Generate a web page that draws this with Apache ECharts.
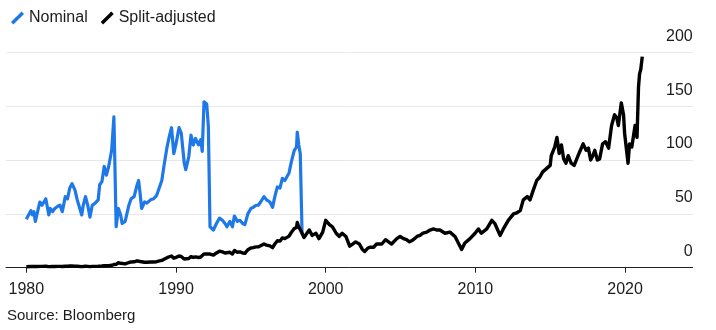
<!DOCTYPE html>
<html>
<head>
<meta charset="utf-8">
<script src="https://cdn.jsdelivr.net/npm/echarts@6/dist/echarts.min.js"></script>
<style>
  html, body { margin: 0; padding: 0; background: #fff; }
  #chart { width: 716px; height: 330px; }
</style>
</head>
<body>
<div id="chart"></div>
<script>
// Share price, decimal years
const nominalYears = [
  1980.0, 1980.3, 1980.4, 1980.5, 1980.6, 1980.75, 1980.9, 1981.05, 1981.3, 1981.5,
  1981.6, 1981.75, 1981.9, 1982.1, 1982.25, 1982.4, 1982.6, 1982.75, 1982.9, 1983.05,
  1983.25, 1983.4, 1983.5, 1983.7, 1983.8, 1983.95, 1984.1, 1984.25, 1984.4, 1984.6,
  1984.8, 1984.9, 1985.05, 1985.2, 1985.35, 1985.5, 1985.7, 1985.85, 1986.0, 1986.15,
  1986.3, 1986.4, 1986.6, 1986.85, 1987.0, 1987.2, 1987.4, 1987.5, 1987.6, 1987.7,
  1987.9, 1988.05, 1988.3, 1988.5, 1988.7, 1988.9, 1989.05, 1989.2, 1989.4, 1989.55,
  1989.7, 1989.85, 1990.0, 1990.2, 1990.35, 1990.55, 1990.65, 1990.85, 1991.0, 1991.15,
  1991.3, 1991.5, 1991.65, 1991.75, 1991.87, 1992.05, 1992.16, 1992.27, 1992.5, 1992.7,
  1992.9, 1993.1, 1993.27, 1993.4, 1993.6, 1993.77, 1993.9, 1994.1, 1994.27, 1994.45,
  1994.6, 1994.8, 1995.0, 1995.15, 1995.35, 1995.5, 1995.65, 1995.88, 1996.05, 1996.27,
  1996.45, 1996.6, 1996.77, 1996.95, 1997.1, 1997.27, 1997.4, 1997.55, 1997.7, 1997.9,
  1998.05, 1998.1, 1998.2, 1998.3, 1998.42
];
const nominalValues = [
  45, 53, 49, 52, 43, 52, 61, 58, 64, 49,
  55, 52, 55, 57, 58, 52, 66, 64, 74, 78,
  72, 63, 63, 49, 58, 66, 58, 47, 58, 60,
  63, 77, 80, 94, 86, 94, 109, 140, 38, 55,
  49, 41, 43, 58, 64, 66, 77, 81, 69, 55,
  61, 60, 63, 64, 67, 75, 81, 95, 112, 122,
  130, 106, 115, 130, 125, 97, 91, 103, 123, 114,
  120, 114, 119, 108, 154, 152, 131, 38, 35, 41,
  46, 44, 41, 38, 43, 38, 48, 43, 44, 41,
  40, 50, 55, 56, 58, 58, 61, 66, 63, 61,
  56, 66, 75, 74, 83, 81, 80, 88, 98, 109,
  112, 126, 114, 106, 32
];

const adjustedYears = [
  1980.0, 1980.3, 1980.4, 1980.5, 1980.6, 1980.75, 1980.9, 1981.05, 1981.3, 1981.5,
  1981.6, 1981.75, 1981.9, 1982.1, 1982.25, 1982.4, 1982.6, 1982.75, 1982.9, 1983.05,
  1983.25, 1983.4, 1983.5, 1983.7, 1983.8, 1983.95, 1984.1, 1984.25, 1984.4, 1984.6,
  1984.8, 1984.9, 1985.05, 1985.2, 1985.35, 1985.5, 1985.7, 1985.85, 1986.0, 1986.15,
  1986.3, 1986.4, 1986.6, 1986.85, 1987.0, 1987.2, 1987.4, 1987.5, 1987.6, 1987.7,
  1987.9, 1988.05, 1988.3, 1988.5, 1988.7, 1988.9, 1989.05, 1989.2, 1989.4, 1989.55,
  1989.7, 1989.85, 1990.0, 1990.2, 1990.35, 1990.55, 1990.65, 1990.85, 1991.0, 1991.15,
  1991.3, 1991.5, 1991.65, 1991.75, 1991.87, 1992.05, 1992.16, 1992.27, 1992.5, 1992.7,
  1992.9, 1993.1, 1993.27, 1993.4, 1993.6, 1993.77, 1993.9, 1994.1, 1994.27, 1994.45,
  1994.6, 1994.8, 1995.0, 1995.15, 1995.35, 1995.5, 1995.65, 1995.88, 1996.05, 1996.27,
  1996.45, 1996.6, 1996.77, 1996.95, 1997.1, 1997.27, 1997.4, 1997.55, 1997.7, 1997.9,
  1998.05, 1998.1, 1998.2, 1998.3, 1998.42, 1998.55, 1998.7, 1998.9, 1999.1, 1999.35,
  1999.55, 1999.8, 2000.0, 2000.25, 2000.45, 2000.7, 2000.9, 2001.1, 2001.35, 2001.6,
  2001.8, 2002.0, 2002.25, 2002.45, 2002.6, 2002.8, 2002.95, 2003.2, 2003.4, 2003.75,
  2004.0, 2004.2, 2004.4, 2004.75, 2004.97, 2005.2, 2005.4, 2005.6, 2005.85, 2006.1,
  2006.3, 2006.5, 2006.75, 2006.97, 2007.2, 2007.4, 2007.63, 2007.97, 2008.3, 2008.64,
  2008.86, 2009.08, 2009.3, 2009.64, 2009.98, 2010.2, 2010.4, 2010.76, 2011.1, 2011.3,
  2011.65, 2011.87, 2012.2, 2012.55, 2012.77, 2013.0, 2013.2, 2013.47, 2013.65, 2013.87,
  2014.1, 2014.3, 2014.5, 2014.75, 2015.0, 2015.07, 2015.3, 2015.45, 2015.6, 2015.75,
  2015.9, 2016.05, 2016.2, 2016.4, 2016.6, 2016.7, 2016.95, 2017.2, 2017.4, 2017.55,
  2017.7, 2017.85, 2017.98, 2018.15, 2018.3, 2018.5, 2018.7, 2018.9, 2019.0, 2019.1,
  2019.3, 2019.45, 2019.55, 2019.75, 2019.9, 2019.97, 2020.2, 2020.3, 2020.45, 2020.55,
  2020.67, 2020.8, 2020.9, 2020.97, 2021.05, 2021.15
];
const adjustedValues = [
  0.94, 1.10, 1.02, 1.08, 0.90, 1.08, 1.27, 1.21, 1.33, 1.02,
  1.15, 1.08, 1.15, 1.19, 1.21, 1.08, 1.38, 1.33, 1.54, 1.63,
  1.50, 1.31, 1.31, 1.02, 1.21, 1.38, 1.21, 0.98, 1.21, 1.25,
  1.31, 1.60, 1.67, 1.96, 1.79, 1.96, 2.27, 2.92, 3.17, 4.58,
  4.08, 3.42, 3.58, 4.83, 5.33, 5.50, 6.42, 6.75, 5.75, 4.58,
  5.08, 5.00, 5.25, 5.33, 5.58, 6.25, 6.75, 7.92, 9.33, 10.17,
  10.83, 8.83, 9.58, 10.83, 10.42, 8.08, 7.58, 8.58, 10.25, 9.50,
  10.0, 9.50, 9.92, 9.00, 12.83, 12.67, 10.92, 12.67, 11.67, 13.67,
  15.33, 14.67, 13.67, 12.67, 14.33, 12.67, 16.0, 14.33, 14.67, 13.67,
  13.33, 16.67, 18.33, 18.67, 19.33, 19.33, 20.33, 22.0, 21.0, 20.33,
  18.67, 22.0, 25.0, 24.67, 27.67, 27.0, 26.67, 29.33, 32.67, 36.33,
  37.33, 42.0, 38.0, 35.33, 32, 28, 31, 35, 30, 32,
  27, 33, 44, 40, 38, 32, 29, 32, 29, 20,
  22, 24, 22, 17, 15, 18, 19, 19, 22, 22,
  26, 24, 22, 27, 29, 27, 26, 24, 26, 29,
  30, 32, 33, 35, 36, 35, 35, 32, 33, 29,
  23, 17, 23, 27, 32, 36, 32, 36, 44, 41,
  30, 36, 44, 50, 51, 53, 63, 66, 63, 72,
  81, 84, 89, 92, 95, 104, 112, 121, 106, 114,
  101, 97, 104, 97, 95, 94, 107, 115, 109, 111,
  100, 104, 109, 100, 101, 115, 117, 111, 112, 132,
  142, 139, 132, 153, 142, 125, 97, 115, 112, 121,
  132, 121, 168, 180, 184, 196
];

const xTickYears = [1980, 1990, 2000, 2010, 2020];
const seriesNames = ['Nominal', 'Split-adjusted'];
const sourceNote = 'Source: Bloomberg';

const pairs = (xs, ys) => xs.map((x, i) => [x, ys[i]]);

const FONT = '"Liberation Sans", Arial, sans-serif';
const TEXT = '#1c1c1c';
const BLUE = '#1f78e8';
// thin diagonal bar used as the legend key
const slash = 'path://M0,10.6 L10.6,0 L13,2.4 L2.4,13 Z';

const chart = echarts.init(document.getElementById('chart'), null, { renderer: 'canvas' });
chart.setOption({
  animation: false,
  backgroundColor: '#fff',
  textStyle: { fontFamily: FONT },
  grid: { left: 6, right: 23.3, top: 52.3, bottom: 62.3, containLabel: false },
  legend: {
    left: 6, top: 5,
    icon: slash,
    itemWidth: 13, itemHeight: 13, itemGap: 13,
    itemStyle: { borderWidth: 0 },
    textStyle: { fontSize: 16, color: TEXT, fontFamily: FONT },
    data: seriesNames
  },
  xAxis: {
    type: 'value',
    min: 1978.64, max: 2024.52,
    splitLine: { show: false },
    axisLine: { show: true, lineStyle: { color: '#222', width: 1 } },
    axisTick: { show: true, customValues: xTickYears, length: 5, lineStyle: { color: '#222', width: 1 } },
    axisLabel: {
      customValues: xTickYears,
      fontSize: 16, color: TEXT, fontFamily: FONT, margin: 14,
      formatter: v => String(Math.round(v))
    }
  },
  yAxis: {
    type: 'value',
    position: 'right',
    min: 0, max: 200, interval: 50,
    axisLine: { show: false },
    axisTick: { show: false },
    splitLine: { lineStyle: { color: '#e8e8e8', width: 1 } },
    axisLabel: {
      inside: true, margin: 0,
      verticalAlign: 'bottom', padding: [0, 0, 8, 0],
      fontSize: 16, color: TEXT, fontFamily: FONT
    }
  },
  graphic: [{
    type: 'text', left: 7, top: 308,
    style: { text: sourceNote, fontSize: 15, fill: TEXT, fontFamily: FONT }
  }],
  series: [
    {
      name: seriesNames[0], type: 'line', showSymbol: false, z: 2,
      color: BLUE,
      lineStyle: { color: BLUE, width: 3.2, join: 'round' },
      data: pairs(nominalYears, nominalValues)
    },
    {
      name: seriesNames[1], type: 'line', showSymbol: false, z: 3,
      color: '#000',
      lineStyle: { color: '#000', width: 3.4, join: 'round' },
      data: pairs(adjustedYears, adjustedValues)
    }
  ]
});
</script>
</body>
</html>
